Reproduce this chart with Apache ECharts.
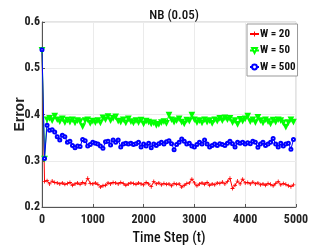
<!DOCTYPE html>
<html><head><meta charset="utf-8">
<script src="https://cdn.jsdelivr.net/npm/echarts@6/dist/echarts.min.js"></script>
<style>html,body{margin:0;padding:0;background:#fff}#c{width:327px;height:245px}</style>
</head><body><div id="c"></div>
<script>
const timeSteps = [0,50,100,150,200,250,300,350,400,450,500,550,600,650,700,750,800,850,900,950,1000,1050,1100,1150,1200,1250,1300,1350,1400,1450,1500,1550,1600,1650,1700,1750,1800,1850,1900,1950,2000,2050,2100,2150,2200,2250,2300,2350,2400,2450,2500,2550,2600,2650,2700,2750,2800,2850,2900,2950,3000,3050,3100,3150,3200,3250,3300,3350,3400,3450,3500,3550,3600,3650,3700,3750,3800,3850,3900,3950,4000,4050,4100,4150,4200,4250,4300,4350,4400,4450,4500,4550,4600,4650,4700,4750,4800,4850,4900,4950];
const w20 = [0.54,0.255,0.257,0.250,0.256,0.253,0.252,0.250,0.252,0.249,0.251,0.253,0.247,0.250,0.252,0.249,0.253,0.250,0.262,0.251,0.250,0.252,0.249,0.243,0.246,0.247,0.252,0.250,0.253,0.252,0.250,0.253,0.251,0.247,0.250,0.252,0.251,0.249,0.252,0.250,0.248,0.253,0.250,0.244,0.255,0.250,0.252,0.248,0.251,0.249,0.250,0.246,0.251,0.249,0.250,0.243,0.247,0.251,0.252,0.260,0.252,0.246,0.250,0.252,0.249,0.253,0.247,0.250,0.248,0.252,0.251,0.254,0.250,0.255,0.262,0.240,0.247,0.256,0.250,0.260,0.252,0.253,0.250,0.254,0.250,0.252,0.248,0.250,0.247,0.251,0.249,0.246,0.251,0.255,0.248,0.251,0.249,0.246,0.244,0.248];
const w50 = [0.54,0.305,0.390,0.393,0.388,0.398,0.390,0.386,0.392,0.384,0.389,0.385,0.390,0.383,0.388,0.386,0.375,0.388,0.390,0.382,0.387,0.384,0.388,0.383,0.394,0.390,0.397,0.388,0.393,0.396,0.387,0.385,0.390,0.383,0.392,0.386,0.383,0.388,0.384,0.389,0.381,0.387,0.385,0.381,0.383,0.378,0.380,0.384,0.386,0.382,0.400,0.390,0.385,0.388,0.392,0.385,0.381,0.389,0.387,0.400,0.390,0.384,0.388,0.383,0.390,0.385,0.388,0.382,0.390,0.387,0.393,0.388,0.394,0.390,0.393,0.384,0.388,0.380,0.391,0.387,0.392,0.398,0.386,0.390,0.384,0.395,0.388,0.383,0.390,0.386,0.381,0.389,0.385,0.390,0.388,0.383,0.374,0.384,0.390,0.385];
const w500 = [0.54,0.305,0.377,0.366,0.367,0.362,0.352,0.345,0.355,0.352,0.340,0.342,0.333,0.328,0.332,0.331,0.346,0.343,0.332,0.335,0.340,0.338,0.336,0.332,0.327,0.341,0.342,0.334,0.345,0.340,0.345,0.330,0.336,0.338,0.336,0.338,0.335,0.337,0.340,0.330,0.336,0.332,0.338,0.328,0.336,0.333,0.337,0.340,0.336,0.341,0.343,0.337,0.324,0.335,0.340,0.347,0.342,0.336,0.338,0.332,0.330,0.335,0.340,0.336,0.345,0.336,0.330,0.333,0.336,0.333,0.337,0.335,0.333,0.338,0.342,0.337,0.330,0.340,0.338,0.340,0.336,0.339,0.337,0.342,0.340,0.329,0.336,0.340,0.333,0.336,0.340,0.348,0.336,0.330,0.338,0.332,0.336,0.338,0.325,0.346];
const seriesNames = ['W = 20','W = 50','W = 500'];
const xTicks = [0,1000,2000,3000,4000,5000];
const yTicks = [0.2,0.3,0.4,0.5,0.6];

const FONT = '"Roboto Condensed","Liberation Sans",Arial,sans-serif';
const pair = (arr) => timeSteps.map((t,i)=>[t,arr[i]]);
const chart = echarts.init(document.getElementById('c'));
const plus = 'path://M4,0H6V4H10V6H6V10H4V6H0V4H4Z';
chart.setOption({
  animation:false,
  title:{text:'NB (0.05)',left:169,top:4,textAlign:'center',textStyle:{fontFamily:FONT,fontSize:13,fontWeight:500,color:'#111'}},
  grid:{left:42,right:31,top:22,bottom:38,outerBoundsMode:'none',containLabel:false,show:true,borderColor:'#c8c8c8',borderWidth:1,backgroundColor:'#fff'},
  legend:{orient:'vertical',left:247,top:24,backgroundColor:'#fff',borderColor:'#999',borderWidth:1,padding:[4,2,3,2],itemGap:4.5,itemWidth:9,itemHeight:6,
    textStyle:{fontFamily:FONT,fontSize:11,lineHeight:12,fontWeight:'bold',color:'#111',padding:[0,0,0,-4]},data:seriesNames},
  xAxis:{type:'value',min:0,max:5000,interval:1000,
    name:'Time Step (t)',nameLocation:'middle',nameGap:24,nameMoveOverlap:false,nameTextStyle:{fontFamily:FONT,fontSize:14,fontWeight:500,color:'#111'},
    axisLine:{lineStyle:{color:'#555'}},axisTick:{inside:true,length:3,lineStyle:{color:'#555'}},
    axisLabel:{fontFamily:FONT,fontSize:12,fontWeight:'bold',color:'#222',margin:7,formatter:(v)=>xTicks.includes(v)?String(v):''},
    splitLine:{lineStyle:{color:'#ebebeb'}}},
  yAxis:{type:'value',min:0.2,max:0.6,interval:0.1,
    name:'Error',nameLocation:'middle',nameGap:15,nameMoveOverlap:false,nameTextStyle:{fontFamily:'"Liberation Sans",Arial,sans-serif',fontSize:14,fontWeight:'bold',color:'#222'},
    axisLine:{show:true,lineStyle:{color:'#555'}},axisTick:{show:true,inside:true,length:3,lineStyle:{color:'#555'}},
    axisLabel:{fontFamily:FONT,fontSize:12,fontWeight:'bold',color:'#222',margin:2,formatter:(v)=>{const r=Math.round(v*10)/10;return yTicks.includes(r)?r.toFixed(1):'';}},
    splitLine:{lineStyle:{color:'#ebebeb'}}},
  series:[
    {name:seriesNames[0],type:'line',data:pair(w20),symbol:plus,symbolSize:4,showAllSymbol:true,lineStyle:{width:1,color:'#ff0000'},itemStyle:{color:'#ff0000'}},
    {name:seriesNames[1],type:'line',data:pair(w50),symbol:'emptyTriangle',symbolRotate:180,symbolSize:3.5,showAllSymbol:true,lineStyle:{width:1,color:'#00ff00'},itemStyle:{color:'#00ff00',borderWidth:1}},
    {name:seriesNames[2],type:'line',data:pair(w500),symbol:'emptyCircle',symbolSize:3,showAllSymbol:true,lineStyle:{width:1,color:'#0000ff'},itemStyle:{color:'#0000ff',borderWidth:1}}
  ]
});
</script></body></html>
